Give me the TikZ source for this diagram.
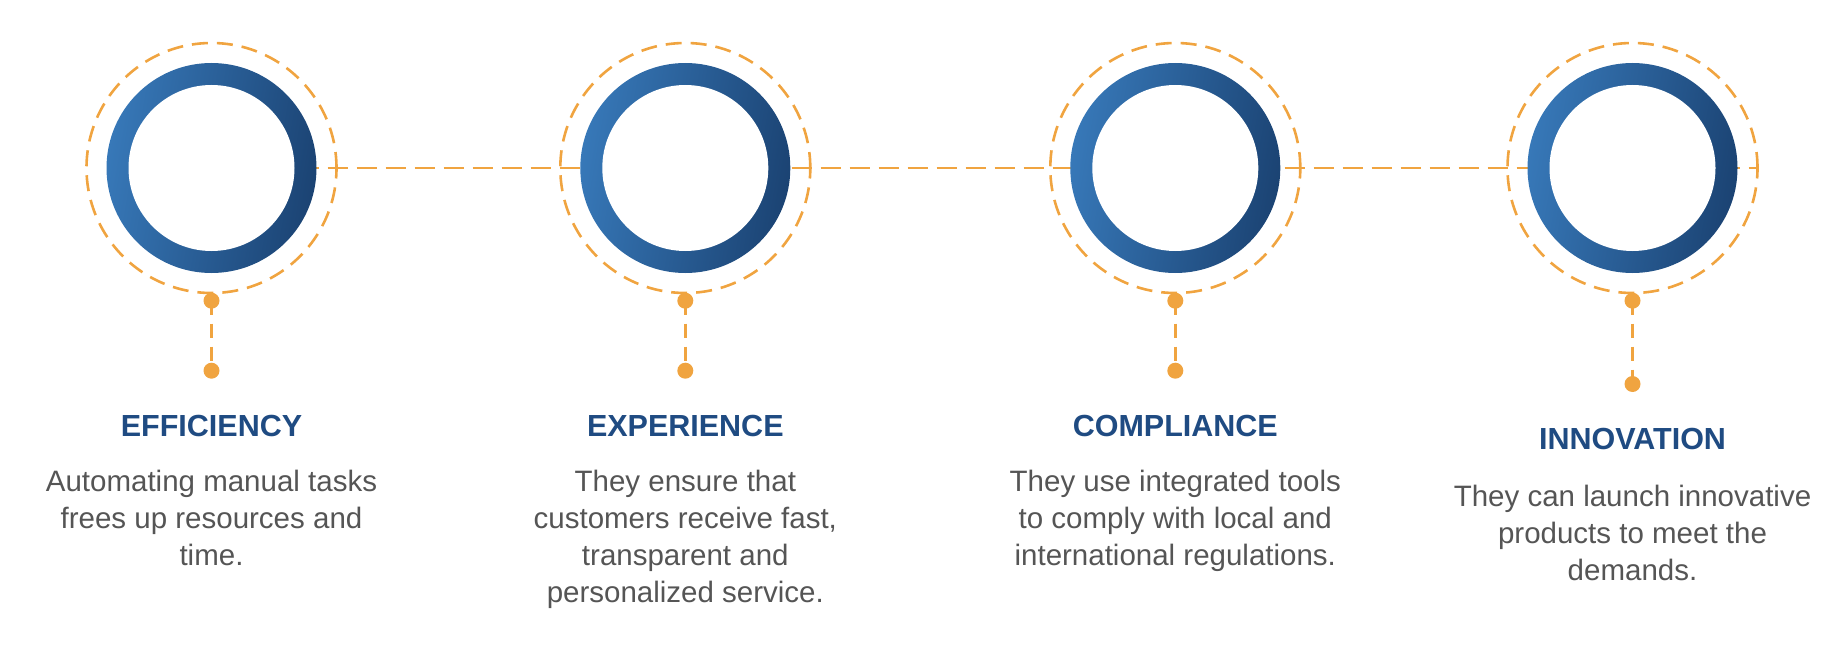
\documentclass[tikz,border=0pt]{standalone}
\usepackage{fontspec}
\setmainfont{Liberation Sans}
\usetikzlibrary{backgrounds}
\definecolor{orng}{HTML}{F0A440}
\definecolor{ringlight}{HTML}{3778B8}
\definecolor{ringdark}{HTML}{1B4373}
\definecolor{ttl}{HTML}{1F4B82}
\definecolor{txt}{HTML}{555555}
\tikzset{
  dashring/.style={circle, draw=orng, line width=2.6pt, dash pattern=on 16pt off 9pt, minimum size=250pt, inner sep=0pt},
  bluering/.style={circle, minimum size=210pt, inner sep=0pt, left color=ringlight, right color=ringdark, shading angle=80},
  hole/.style={circle, fill=white, minimum size=166pt, inner sep=0pt},
  dotnode/.style={circle, fill=orng, minimum size=16pt, inner sep=0pt},
  hline/.style={draw=orng, line width=2.6pt, dash pattern=on 20pt off 9pt},
  vline/.style={draw=orng, line width=2.6pt, dash pattern=on 14pt off 9pt},
  ttlnode/.style={anchor=base, inner sep=0pt, text=ttl, font=\fontsize{30.5}{36}\selectfont\bfseries},
  txtnode/.style={anchor=base, inner sep=0pt, text=txt, font=\fontsize{29.5}{37}\selectfont},
}
\newcommand{\desclines}[1]{\begin{tabular}[t]{@{}c@{}}#1\end{tabular}}
\begin{document}
\begin{tikzpicture}[x=1pt,y=-1pt]
\useasboundingbox (0,0) rectangle (1844,658);
% circles
\foreach \i/\cx in {1/211.5,2/685.3,3/1175.3,4/1632.5}{
  \node[dashring] (d\i) at (\cx,168) {};
  \node[bluering] (r\i) at (\cx,168) {};
  \node[hole] (h\i) at (\cx,168) {};
}
% dots
\node[dotnode] (a1) at (211.5,300.7) {};
\node[dotnode] (b1) at (211.5,370.7) {};
\node[dotnode] (a2) at (685.3,300.7) {};
\node[dotnode] (b2) at (685.3,370.7) {};
\node[dotnode] (a3) at (1175.3,300.7) {};
\node[dotnode] (b3) at (1175.3,370.7) {};
\node[dotnode] (a4) at (1632.5,300.7) {};
\node[dotnode] (b4) at (1632.5,384.0) {};
\begin{scope}[on background layer]
  \draw[hline] (r1.center) -- (d4.east);
  \foreach \i in {1,2,3,4}{ \draw[vline] (a\i.center) -- (b\i.center); }
\end{scope}
% titles
\node[ttlnode] (t1) at (211.5,436) {EFFICIENCY};
\node[ttlnode] (t2) at (685.3,436) {EXPERIENCE};
\node[ttlnode] (t3) at (1175.3,436) {COMPLIANCE};
\node[ttlnode] (t4) at (1632.5,449) {INNOVATION};
% descriptions
\node[txtnode] (x1) at (211.5,491.5) {\desclines{Automating manual tasks\\frees up resources and\\time.}};
\node[txtnode] (x2) at (685.3,491.5) {\desclines{They ensure that\\customers receive fast,\\transparent and\\personalized service.}};
\node[txtnode] (x3) at (1175.3,491.5) {\desclines{They use integrated tools\\to comply with local and\\international regulations.}};
\node[txtnode] (x4) at (1632.5,506) {\desclines{They can launch innovative\\products to meet the\\demands.}};
\end{tikzpicture}
\end{document}
